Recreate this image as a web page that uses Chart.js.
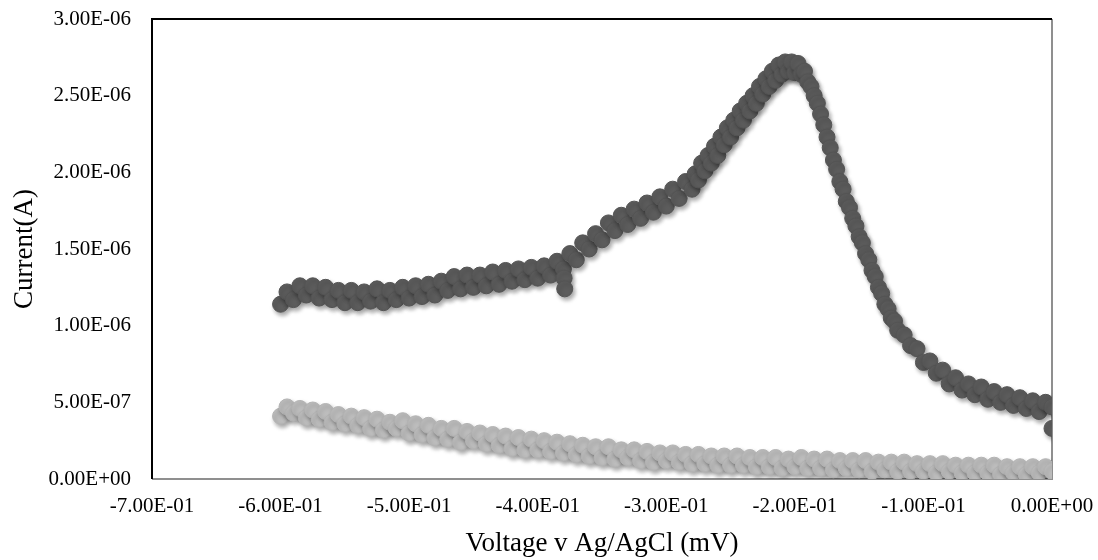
<!DOCTYPE html>
<html>
<head>
<meta charset="utf-8">
<title>Current vs Voltage</title>
<script src="https://cdn.jsdelivr.net/npm/chart.js@4.4.1/dist/chart.umd.min.js"></script>
<style>
  html, body { margin: 0; padding: 0; background: #fff; }
  #chart { display: block; }
</style>
</head>
<body>
<canvas id="chart" width="1098" height="560"></canvas>
<script>
// sample trace: voltage (V), finer steps where the peak is steep
const sampleVoltage = [
  -0.600, -0.595, -0.590, -0.585, -0.580, -0.575, -0.570, -0.565, -0.560, -0.555,
  -0.550, -0.545, -0.540, -0.535, -0.530, -0.525, -0.520, -0.515, -0.510, -0.505,
  -0.500, -0.495, -0.490, -0.485, -0.480, -0.475, -0.470, -0.465, -0.460, -0.455,
  -0.450, -0.445, -0.440, -0.435, -0.430, -0.425, -0.420, -0.415, -0.410, -0.405,
  -0.400, -0.395, -0.390, -0.385, -0.380, -0.3795, -0.379, -0.375, -0.370, -0.365, -0.360, -0.355,
  -0.350, -0.345, -0.340, -0.335, -0.330, -0.325, -0.320, -0.315, -0.310, -0.305,
  -0.300, -0.295, -0.290, -0.285,
  -0.2800, -0.2775, -0.2750, -0.2725, -0.2700, -0.2675, -0.2650, -0.2625, -0.2600, -0.2575,
  -0.2550, -0.2525, -0.2500, -0.2475, -0.2450, -0.2425, -0.2400, -0.2375, -0.2350, -0.2325,
  -0.2300, -0.2275, -0.2250, -0.2225, -0.2200, -0.2175, -0.2150, -0.2125, -0.2100, -0.2075,
  -0.2050, -0.2025, -0.2000, -0.1975, -0.1950, -0.1925, -0.1900, -0.1875, -0.1850, -0.1825,
  -0.1800, -0.1775, -0.1750, -0.1725, -0.1700, -0.1675, -0.1650, -0.1625, -0.1600, -0.1575,
  -0.1550, -0.1525, -0.1500, -0.1475, -0.1450, -0.1425, -0.1400, -0.1375, -0.1350, -0.1325,
  -0.1300, -0.1275, -0.1250, -0.1225, -0.1200,
  -0.115, -0.110, -0.105, -0.100, -0.095, -0.090, -0.085, -0.080, -0.075, -0.070,
  -0.065, -0.060, -0.055, -0.050, -0.045, -0.040, -0.035, -0.030, -0.025, -0.020,
  -0.015, -0.010, -0.005, 0.000, 0.000
];

// sample current, microamps (dark trace)
const sampleCurrent = [
  1.14, 1.22, 1.17, 1.26, 1.20, 1.26, 1.18, 1.25, 1.17, 1.23,
  1.15, 1.23, 1.15, 1.22, 1.16, 1.24, 1.15, 1.23, 1.17, 1.25,
  1.18, 1.26, 1.19, 1.27, 1.20, 1.29, 1.23, 1.32, 1.24, 1.33,
  1.25, 1.33, 1.26, 1.35, 1.27, 1.36, 1.29, 1.37, 1.30, 1.38,
  1.31, 1.39, 1.33, 1.42, 1.37, 1.31, 1.24, 1.47, 1.43, 1.54, 1.50, 1.60,
  1.56, 1.67, 1.62, 1.72, 1.66, 1.76, 1.70, 1.80, 1.74, 1.84,
  1.78, 1.89, 1.83, 1.94,
  1.89, 1.99, 1.95, 2.06, 2.01, 2.11, 2.06, 2.17, 2.11, 2.23,
  2.18, 2.29, 2.23, 2.34, 2.29, 2.40, 2.34, 2.45, 2.40, 2.50,
  2.45, 2.56, 2.51, 2.61, 2.56, 2.66, 2.60, 2.70, 2.64, 2.72,
  2.66, 2.72, 2.65, 2.71, 2.64, 2.66, 2.59, 2.56, 2.50, 2.45,
  2.38, 2.31, 2.23, 2.16, 2.08, 2.02, 1.94, 1.89, 1.81, 1.77,
  1.70, 1.65, 1.58, 1.54, 1.47, 1.43, 1.36, 1.32, 1.25, 1.21,
  1.14, 1.11, 1.05, 1.03, 0.97,
  0.94, 0.87, 0.85, 0.76, 0.77, 0.69, 0.71, 0.62, 0.66, 0.58,
  0.62, 0.55, 0.60, 0.52, 0.57, 0.50, 0.55, 0.48, 0.53, 0.46,
  0.51, 0.44, 0.50, 0.47, 0.33
];

// blank trace: voltage (V)
const blankVoltage = [
  -0.600, -0.595, -0.590, -0.585, -0.580, -0.575, -0.570, -0.565, -0.560, -0.555,
  -0.550, -0.545, -0.540, -0.535, -0.530, -0.525, -0.520, -0.515, -0.510, -0.505,
  -0.500, -0.495, -0.490, -0.485, -0.480, -0.475, -0.470, -0.465, -0.460, -0.455,
  -0.450, -0.445, -0.440, -0.435, -0.430, -0.425, -0.420, -0.415, -0.410, -0.405,
  -0.400, -0.395, -0.390, -0.385, -0.380, -0.375, -0.370, -0.365, -0.360, -0.355,
  -0.350, -0.345, -0.340, -0.335, -0.330, -0.325, -0.320, -0.315, -0.310, -0.305,
  -0.300, -0.295, -0.290, -0.285, -0.280, -0.275, -0.270, -0.265, -0.260, -0.255,
  -0.250, -0.245, -0.240, -0.235, -0.230, -0.225, -0.220, -0.215, -0.210, -0.205,
  -0.200, -0.195, -0.190, -0.185, -0.180, -0.175, -0.170, -0.165, -0.160, -0.155,
  -0.150, -0.145, -0.140, -0.135, -0.130, -0.125, -0.120, -0.115, -0.110, -0.105,
  -0.100, -0.095, -0.090, -0.085, -0.080, -0.075, -0.070, -0.065, -0.060, -0.055,
  -0.050, -0.045, -0.040, -0.035, -0.030, -0.025, -0.020, -0.015, -0.010, -0.005,
  0.000
];

// blank current, microamps (light trace)
const blankCurrent = [
  0.41, 0.47, 0.43, 0.46, 0.40, 0.45, 0.39, 0.44, 0.37, 0.42,
  0.36, 0.41, 0.35, 0.40, 0.33, 0.39, 0.32, 0.37, 0.33, 0.38,
  0.30, 0.36, 0.29, 0.35, 0.27, 0.33, 0.26, 0.33, 0.24, 0.31,
  0.25, 0.30, 0.23, 0.29, 0.22, 0.28, 0.20, 0.27, 0.19, 0.26,
  0.19, 0.25, 0.18, 0.24, 0.17, 0.23, 0.16, 0.22, 0.15, 0.21,
  0.14, 0.21, 0.13, 0.19, 0.14, 0.19, 0.12, 0.18, 0.11, 0.17,
  0.12, 0.17, 0.11, 0.16, 0.10, 0.16, 0.10, 0.15, 0.09, 0.15,
  0.09, 0.15, 0.09, 0.14, 0.08, 0.14, 0.08, 0.14, 0.07, 0.13,
  0.08, 0.14, 0.07, 0.13, 0.07, 0.13, 0.06, 0.12, 0.07, 0.12,
  0.06, 0.12, 0.05, 0.11, 0.06, 0.11, 0.05, 0.11, 0.05, 0.10,
  0.05, 0.10, 0.04, 0.10, 0.05, 0.09, 0.04, 0.09, 0.04, 0.09,
  0.04, 0.09, 0.03, 0.08, 0.04, 0.08, 0.03, 0.08, 0.04, 0.08,
  0.05
];

const xTicks = [-0.7, -0.6, -0.5, -0.4, -0.3, -0.2, -0.1, 0];
const yTicks = [0, 0.5e-6, 1.0e-6, 1.5e-6, 2.0e-6, 2.5e-6, 3.0e-6];

function toPoints(xs, ys) {
  return xs.map((x, i) => ({ x: x, y: ys[i] * 1e-6 }));
}

// excel-like scientific label: 2.50E-06
function sci(v) {
  const parts = Number(v).toExponential(2).split('e');
  const exp = parseInt(parts[1], 10);
  const sign = exp < 0 ? '-' : '+';
  return parts[0].toUpperCase() + 'E' + sign + String(Math.abs(exp)).padStart(2, '0');
}

// soft drop shadow under the markers
const markerShadow = {
  id: 'markerShadow',
  beforeDatasetDraw(chart) {
    const ctx = chart.ctx;
    ctx.save();
    ctx.shadowColor = 'rgba(0,0,0,0.35)';
    ctx.shadowBlur = 4;
    ctx.shadowOffsetX = 2;
    ctx.shadowOffsetY = 3;
  },
  afterDatasetDraw(chart) {
    chart.ctx.restore();
  }
};

// plot frame: dark top/left, grey right/bottom
const plotFrame = {
  id: 'plotFrame',
  beforeDatasetsDraw(chart) {
    const { ctx, chartArea: a } = chart;
    ctx.save();
    ctx.lineWidth = 2;
    ctx.strokeStyle = '#8f8f8f';
    ctx.beginPath();
    ctx.moveTo(a.right, a.top);
    ctx.lineTo(a.right, a.bottom);
    ctx.lineTo(a.left, a.bottom);
    ctx.stroke();
    ctx.strokeStyle = '#000';
    ctx.beginPath();
    ctx.moveTo(a.left, a.bottom);
    ctx.lineTo(a.left, a.top);
    ctx.lineTo(a.right, a.top);
    ctx.stroke();
    ctx.restore();
  }
};

function noPad(s) {
  s.paddingTop = 0; s.paddingBottom = 0; s.paddingLeft = 0; s.paddingRight = 0;
}

const fontFam = '"Liberation Serif", "DejaVu Serif", serif';

new Chart(document.getElementById('chart'), {
  type: 'scatter',
  data: {
    datasets: [
      {
        label: 'Blank',
        data: toPoints(blankVoltage, blankCurrent),
        backgroundColor: '#bdbdbd',
        borderColor: '#b3b3b3',
        borderWidth: 1,
        pointRadius: 8,
        pointHoverRadius: 8
      },
      {
        label: 'Sample',
        data: toPoints(sampleVoltage, sampleCurrent),
        backgroundColor: '#5c5c5c',
        borderColor: '#545454',
        borderWidth: 1,
        pointRadius: 8,
        pointHoverRadius: 8
      }
    ]
  },
  options: {
    responsive: false,
    animation: false,
    layout: { padding: { top: 19, right: 46, left: 0, bottom: 0 } },
    plugins: {
      legend: { display: false },
      tooltip: { enabled: false }
    },
    scales: {
      x: {
        type: 'linear',
        min: -0.7,
        max: 0,
        afterBuildTicks: (s) => { s.ticks = xTicks.map(v => ({ value: v })); },
        afterFit: (s) => { s.height = 81; noPad(s); },
        grid: { display: false, drawTicks: false },
        border: { display: false },
        ticks: {
          padding: 15,
          color: '#000',
          font: { family: fontFam, size: 21 },
          maxRotation: 0,
          callback: (v) => sci(v)
        },
        title: {
          display: true,
          text: 'Voltage v Ag/AgCl (mV)',
          color: '#000',
          font: { family: fontFam, size: 27 },
          padding: { top: 5, bottom: 0 }
        }
      },
      y: {
        type: 'linear',
        min: 0,
        max: 3e-6,
        afterBuildTicks: (s) => { s.ticks = yTicks.map(v => ({ value: v })); },
        afterFit: (s) => { s.width = 152; noPad(s); },
        grid: { display: false, drawTicks: false },
        border: { display: false },
        ticks: {
          padding: 21,
          color: '#000',
          font: { family: fontFam, size: 21 },
          callback: (v) => sci(v)
        },
        title: {
          display: true,
          text: 'Current(A)',
          color: '#000',
          font: { family: fontFam, size: 27 },
          padding: { top: 9, bottom: 0 }
        }
      }
    }
  },
  plugins: [plotFrame, markerShadow]
});
</script>
</body>
</html>
